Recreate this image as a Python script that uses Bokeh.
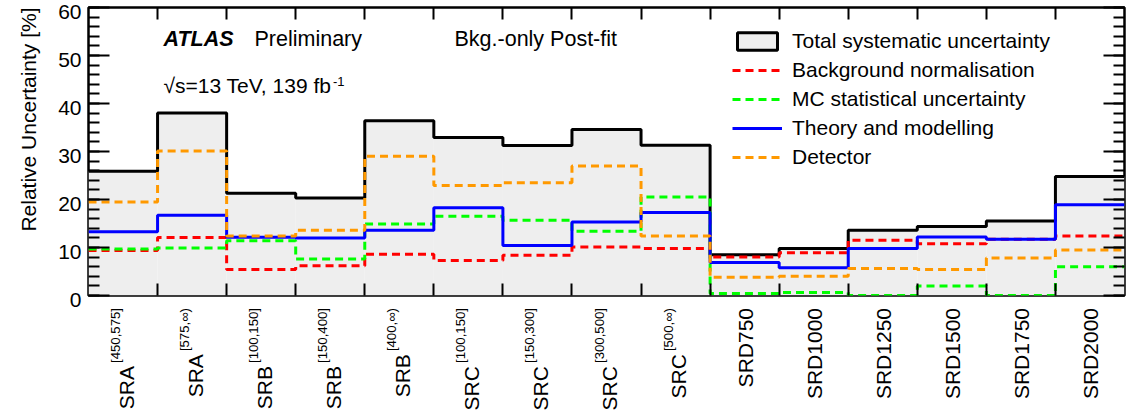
import math
from bokeh.plotting import figure
from bokeh.layouts import row, column
from bokeh.models import (Range1d, LinearAxis, FixedTicker, SingleIntervalTicker,
                          Label, Legend, LegendItem, CustomJSTickFormatter, ColumnDataSource)
from bokeh.core.properties import value
from bokeh.embed import file_html
from bokeh.resources import INLINE

# ---------------- data ----------------
regions = ["SRA", "SRA", "SRB", "SRB", "SRB", "SRC", "SRC", "SRC", "SRC",
           "SRD750", "SRD1000", "SRD1250", "SRD1500", "SRD1750", "SRD2000"]
region_ranges = ["[450,575]", "[575,∞)", "[100,150]", "[150,400]", "[400,∞)",
                 "[100,150]", "[150,300]", "[300,500]", "[500,∞)",
                 "", "", "", "", "", ""]

total = [25.9, 38.0, 21.3, 20.3, 36.4, 32.9, 31.25, 34.6, 31.3,
         8.5, 9.8, 13.6, 14.4, 15.5, 24.8]
bkg_norm = [9.4, 12.1, 5.4, 6.2, 8.6, 7.3, 8.4, 10.1, 9.8,
            8.0, 8.9, 11.5, 10.8, 11.7, 12.4]
mc_stat = [9.7, 9.9, 11.4, 7.6, 14.9, 16.5, 15.7, 13.4, 20.5,
           0.4, 0.6, 0.0, 2.0, 0.0, 6.0]
theory = [13.3, 16.7, 12.15, 12.0, 13.6, 18.3, 10.4, 15.3, 17.3,
          6.9, 5.8, 9.8, 12.2, 11.7, 18.9]
detector = [19.5, 30.1, 12.4, 13.6, 29.0, 22.9, 23.5, 27.0, 12.4,
            3.8, 4.0, 5.6, 5.4, 7.8, 9.5]

y_ticks_interval = 10
y_max = 60
y_tick_values = list(range(0, y_max + 1, y_ticks_interval))

FONT = "Liberation Sans"
n = len(total)
edges = list(range(n + 1))

W, H = 1127, 417
TITLE_W = 50          # strip for the y-axis title
TICK_W = 33           # strip for the y tick labels
MAIN_W = W - TITLE_W - TICK_W
MAIN_H = 300
FRAME_TOP, FRAME_BOTTOM = 7, 295   # canvas rows of the plot frame
PAD_L = 5

x_range = Range1d(0, n)
p = figure(width=MAIN_W, height=MAIN_H, x_range=x_range, y_range=Range1d(0, y_max),
           output_backend="svg", toolbar_location=None,
           min_border_left=PAD_L, min_border_right=3, min_border_top=FRAME_TOP,
           min_border_bottom=MAIN_H - FRAME_BOTTOM)
p.xgrid.visible = False
p.ygrid.visible = False
p.background_fill_color = "white"
p.border_fill_color = "white"
p.outline_line_color = "black"
p.outline_line_width = 2.5
p.outline_line_alpha = 1.0

blank = CustomJSTickFormatter(code="return ''")


def hide_labels(ax):
    ax.formatter = blank
    ax.major_label_text_font_size = "1px"
    ax.major_label_standoff = 0
    ax.axis_label_standoff = 0


def style_x_axis(ax):
    ax.ticker = FixedTicker(ticks=edges[1:-1])
    ax.major_tick_in = 12
    ax.major_tick_out = 0
    ax.minor_tick_in = 0
    ax.minor_tick_out = 0
    ax.major_tick_line_width = 2
    ax.major_tick_line_color = "black"
    ax.axis_line_color = None
    hide_labels(ax)


def style_y_axis(ax):
    ax.ticker = SingleIntervalTicker(interval=y_ticks_interval, num_minor_ticks=5)
    ax.major_tick_in = 21
    ax.major_tick_out = 0
    ax.minor_tick_in = 11
    ax.minor_tick_out = 0
    ax.major_tick_line_width = 2
    ax.minor_tick_line_width = 2
    ax.major_tick_line_color = "black"
    ax.minor_tick_line_color = "black"
    ax.axis_line_color = None
    hide_labels(ax)


style_x_axis(p.xaxis[0])
style_y_axis(p.yaxis[0])
top_ax = LinearAxis()
style_x_axis(top_ax)
p.add_layout(top_ax, "above")
right_ax = LinearAxis()
style_y_axis(right_ax)
p.add_layout(right_ax, "right")

# ---------------- histograms ----------------
p.quad(left=edges[:-1], right=edges[1:], bottom=0, top=total,
       fill_color="#eeeeee", line_color=None)
r_total = p.step(x=edges, y=total + [total[-1]], mode="after",
                 line_color="black", line_width=3)
r_bkg = p.step(x=edges, y=bkg_norm + [bkg_norm[-1]], mode="after",
               line_color="#ff0000", line_width=3, line_dash="8 5")
r_mc = p.step(x=edges, y=mc_stat + [mc_stat[-1]], mode="after",
              line_color="#00ff00", line_width=3, line_dash="8 5")
r_th = p.step(x=edges, y=theory + [theory[-1]], mode="after",
              line_color="#0000ff", line_width=3)
r_det = p.step(x=edges, y=detector + [detector[-1]], mode="after",
               line_color="#ff9900", line_width=3, line_dash="8 5")

# legend swatch for total (box with outline); one NaN row so nothing is drawn in the plot
nan = float("nan")
r_box = p.quad(left=[nan], right=[nan], bottom=[nan], top=[nan],
               fill_color="#eeeeee", line_color="black", line_width=3)

legend = Legend(items=[
    LegendItem(label="Total systematic uncertainty", renderers=[r_box]),
    LegendItem(label="Background normalisation", renderers=[r_bkg]),
    LegendItem(label="MC statistical uncertainty", renderers=[r_mc]),
    LegendItem(label="Theory and modelling", renderers=[r_th]),
    LegendItem(label="Detector", renderers=[r_det]),
], location=(644, 126), orientation="vertical")
legend.glyph_width = 50
legend.glyph_height = 22
legend.label_height = 22
legend.spacing = 5
legend.padding = 0
legend.margin = 0
legend.label_standoff = 10
legend.label_text_font = FONT
legend.label_text_font_size = "21px"
legend.label_text_color = "black"
legend.border_line_color = None
legend.background_fill_alpha = 0
p.add_layout(legend, "center")

# ---------------- texts inside the frame ----------------
def txt(x, y, s, size="21px", style="normal", **kw):
    p.add_layout(Label(x=x, y=y, x_units="screen", y_units="screen", text=s,
                       text_font=FONT, text_font_size=size, text_font_style=style,
                       text_color="black", **kw))

txt(75, 257, "ATLAS", size="21.5px", style="bold italic", text_baseline="alphabetic")
txt(166, 257, "Preliminary", size="21.5px", text_baseline="alphabetic")
txt(366, 256.5, "Bkg.-only Post-fit", size="21.5px", text_baseline="alphabetic")
txt(75, 209.6, "√s=13 TeV, 139 fb", size="21px", text_baseline="alphabetic")
txt(244.5, 214, "-1", size="13px", text_baseline="alphabetic")

# ---------------- x category labels (strip under the plot) ----------------
LAB_H = H - MAIN_H
lab = figure(width=MAIN_W, height=LAB_H, x_range=x_range, y_range=Range1d(-LAB_H, 0),
             output_backend="svg", toolbar_location=None,
             min_border_left=PAD_L, min_border_right=3, min_border_top=0,
             min_border_bottom=0, x_axis_location=None, y_axis_location=None)
lab.xgrid.visible = False
lab.ygrid.visible = False
lab.outline_line_color = None
lab.background_fill_color = "white"
lab.border_fill_color = "white"

char_w = {"[": 0.278, "]": 0.278, ",": 0.278, "(": 0.333, ")": 0.333, "∞": 0.713}
sup_size = 13.2
top_end = -(307.5 - MAIN_H)
base_x, base_y, base_t, base_off = [], [], [], []
sup_x, sup_y, sup_t = [], [], []
for i, (name, rng) in enumerate(zip(regions, region_ranges)):
    xc = i + 0.5
    if rng:
        sup_len = sum(char_w.get(c, 0.556) for c in rng) * sup_size
        sup_x.append(xc); sup_y.append(top_end); sup_t.append(rng)
        base_x.append(xc); base_y.append(top_end - sup_len - 3.0); base_t.append(name)
        base_off.append(3)
    else:
        base_x.append(xc); base_y.append(top_end); base_t.append(name)
        base_off.append(0.5)

lab.text(x="x", y="y", text="t", x_offset="o",
         source=ColumnDataSource(dict(x=base_x, y=base_y, t=base_t, o=base_off)),
         angle=math.pi / 2, text_align="right", text_baseline="alphabetic",
         text_font=value(FONT), text_font_size=value("21px"), text_color="black")
lab.text(x="x", y="y", text="t",
         source=ColumnDataSource(dict(x=sup_x, y=sup_y, t=sup_t)),
         x_offset=-7.5, angle=math.pi / 2, text_align="right", text_baseline="alphabetic",
         text_font=value(FONT), text_font_size=value(f"{sup_size}px"), text_color="black")

# ---------------- y tick labels strip (axis sharing the same px/unit scale) ----------------
px_per_unit = (FRAME_BOTTOM - FRAME_TOP) / y_max
label_shift = 4   # ROOT-style labels sit slightly below their ticks
tk_lo = -(H - FRAME_BOTTOM - label_shift) / px_per_unit
tk_hi = y_max + (FRAME_TOP + label_shift) / px_per_unit
tk = figure(width=TICK_W, height=H, x_range=Range1d(0, 1), y_range=Range1d(tk_lo, tk_hi),
            output_backend="svg", toolbar_location=None,
            min_border_left=TICK_W - 2, min_border_right=0, min_border_top=0,
            min_border_bottom=0, x_axis_location=None)
tk.xgrid.visible = False
tk.ygrid.visible = False
tk.outline_line_color = None
tk.background_fill_color = "white"
tk.border_fill_color = "white"
ya = tk.yaxis[0]
ya.ticker = FixedTicker(ticks=y_tick_values)
ya.major_tick_in = 0
ya.major_tick_out = 0
ya.minor_tick_in = 0
ya.minor_tick_out = 0
ya.axis_line_color = None
ya.major_label_standoff = 0
ya.major_label_text_font = FONT
ya.major_label_text_font_size = "21px"
ya.major_label_text_color = "black"

# ---------------- y axis title strip ----------------
tfig = figure(width=TITLE_W, height=H, x_range=Range1d(0, TITLE_W), y_range=Range1d(0, H),
              output_backend="svg", toolbar_location=None,
              min_border_left=0, min_border_right=0, min_border_top=0, min_border_bottom=0,
              x_axis_location=None, y_axis_location=None)
tfig.xgrid.visible = False
tfig.ygrid.visible = False
tfig.outline_line_color = None
tfig.background_fill_color = "white"
tfig.border_fill_color = "white"
tfig.text(x=[28.3], y=[H - 7], text=["Relative Uncertainty [%]"],
          angle=math.pi / 2, text_align="right", text_baseline="alphabetic",
          text_font=value(FONT), text_font_size=value("21px"), text_color="black")

layout = row(tfig, tk, column(p, lab, spacing=0), spacing=0)
open("out.html", "w").write(file_html(layout, INLINE))
